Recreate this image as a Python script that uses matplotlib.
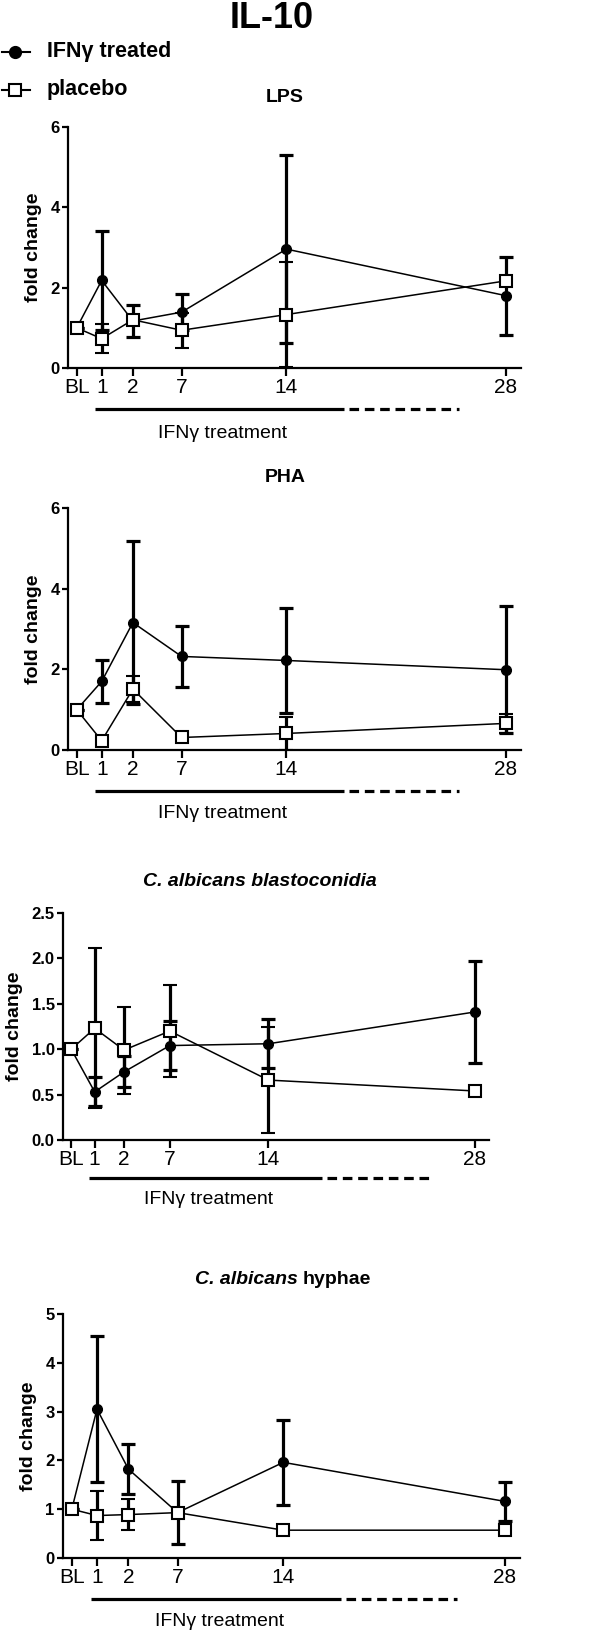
import matplotlib
matplotlib.use("Agg")
import matplotlib.pyplot as plt
from matplotlib.lines import Line2D
from matplotlib import transforms

plt.rcParams["font.family"] = ["Liberation Sans", "DejaVu Sans"]

# ==========================================
# DATA (fold change, mean and error)
# ==========================================
day_labels = ["BL", "1", "2", "7", "14", "28"]

lps_treated = [1.0, 2.18, 1.17, 1.39, 2.96, 1.80]
lps_treated_err = [0.0, 1.24, 0.40, 0.44, 2.35, 0.97]
lps_placebo = [1.0, 0.73, 1.20, 0.94, 1.33, 2.17]
lps_placebo_err = [0.0, 0.36, 0.10, 0.43, 1.31, 0.10]

pha_treated = [1.0, 1.70, 3.16, 2.32, 2.22, 1.99]
pha_treated_err = [0.0, 0.53, 2.01, 0.75, 1.31, 1.58]
pha_placebo = [1.0, 0.23, 1.51, 0.31, 0.41, 0.66]
pha_placebo_err = [0.0, 0.08, 0.33, 0.05, 0.42, 0.24]

blasto_treated = [1.0, 0.53, 0.75, 1.04, 1.06, 1.41]
blasto_treated_err = [0.0, 0.16, 0.17, 0.27, 0.27, 0.56]
blasto_placebo = [1.0, 1.23, 0.99, 1.20, 0.66, 0.54]
blasto_placebo_err = [0.0, 0.88, 0.48, 0.51, 0.58, 0.02]

hyphae_treated = [1.0, 3.05, 1.82, 0.93, 1.96, 1.16]
hyphae_treated_err = [0.0, 1.49, 0.51, 0.65, 0.87, 0.40]
hyphae_placebo = [1.0, 0.87, 0.89, 0.93, 0.57, 0.57]
hyphae_placebo_err = [0.0, 0.50, 0.32, 0.10, 0.08, 0.03]

# ==========================================
# LAYOUT
# ==========================================
W, H = 600, 1636
x_pos = [0, 1, 2.25, 4.2, 8.4, 17.2]   # uneven spacing of the time axis


def px_rect(l, t, r, b):
    return [l / W, 1 - b / H, (r - l) / W, (b - t) / H]


fig = plt.figure(figsize=(W / 100, H / 100), dpi=100)

# title
fig.text(272 / W, 1 - 19 / H, "IL-10", ha="center", va="center",
         fontsize=26, fontweight="bold")

# legend (drawn by hand, top left)
for yy, mk, mfc, lab in [(52, "o", "black", "IFN\u03b3 treated"),
                         (90, "s", "white", "placebo")]:
    fig.add_artist(Line2D([2 / W, 30 / W], [1 - yy / H, 1 - yy / H],
                          color="black", lw=1.5))
    fig.add_artist(Line2D([15 / W], [1 - yy / H], marker=mk, ms=8,
                          mfc=mfc, mec="black", mew=1.5, color="black"))
    fig.text(47 / W, 1 - yy / H, lab, ha="left", va="center",
             fontsize=15.5, fontweight="bold")

panels = [
    (px_rect(68, 127, 521, 368), lps_treated, lps_treated_err,
     lps_placebo, lps_placebo_err, [0, 2, 4, 6], "{:.0f}", 6, 41, 65),
    (px_rect(68, 508, 521, 750), pha_treated, pha_treated_err,
     pha_placebo, pha_placebo_err, [0, 2, 4, 6], "{:.0f}", 6, 41, 63),
    (px_rect(63, 913, 489, 1140), blasto_treated, blasto_treated_err,
     blasto_placebo, blasto_placebo_err, [0, 0.5, 1.0, 1.5, 2.0, 2.5],
     "{:.1f}", 2.5, 38, 60),
    (px_rect(63, 1314, 520, 1558), hyphae_treated, hyphae_treated_err,
     hyphae_placebo, hyphae_placebo_err, [0, 1, 2, 3, 4, 5], "{:.0f}", 5,
     41, 64),
]

for rect, tr, tr_err, pl, pl_err, yt, fmt, ymax, bar_off, txt_off in panels:
    ax = fig.add_axes(rect)

    ax.errorbar(x_pos, tr, yerr=tr_err, fmt="o-", color="black", ms=7,
                lw=1.1, elinewidth=2.3, capsize=4.7, capthick=2.3, zorder=3)
    ax.errorbar(x_pos, pl, yerr=pl_err, fmt="s-", color="black", ms=8.5,
                mfc="white", mec="black", mew=1.5, lw=1.1, elinewidth=2.3,
                capsize=4.7, capthick=2.3, zorder=4)

    ax.set_xlim(-0.35, 17.8)
    ax.set_ylim(0, ymax)
    ax.set_xticks(x_pos)
    ax.set_xticklabels(day_labels, fontsize=15)
    ax.set_yticks(yt)
    ax.set_yticklabels([fmt.format(v) for v in yt], fontsize=12,
                       fontweight="bold")
    ax.set_ylabel("fold change", fontsize=14, fontweight="bold", labelpad=6)

    for s in ["top", "right"]:
        ax.spines[s].set_visible(False)
    for s in ["left", "bottom"]:
        ax.spines[s].set_linewidth(1.6)
    ax.tick_params(axis="x", length=6, width=1.6, pad=1)
    ax.tick_params(axis="y", length=4, width=1.6, pad=2)

    # treatment period bar under the axis
    trans_bar = transforms.blended_transform_factory(ax.transData, ax.transAxes) \
        + transforms.ScaledTranslation(0, -bar_off / 100, fig.dpi_scale_trans)
    ax.plot([0.75, 10.7], [0, 0], color="black", lw=2.3,
            transform=trans_bar, clip_on=False, solid_capstyle="butt")
    ax.plot([10.9, 15.3], [0, 0], color="black", lw=2.3, linestyle=(0, (3, 1.8)),
            transform=trans_bar, clip_on=False, dash_capstyle="butt")

    trans_txt = transforms.blended_transform_factory(ax.transData, ax.transAxes) \
        + transforms.ScaledTranslation(0, -txt_off / 100, fig.dpi_scale_trans)
    ax.text(5.85, 0, "IFN\u03b3 treatment", transform=trans_txt, ha="center",
            va="center", fontsize=14)

# panel titles
fig.text(285 / W, 1 - 97 / H, "LPS", ha="center", va="center",
         fontsize=14, fontweight="bold")
fig.text(285 / W, 1 - 477 / H, "PHA", ha="center", va="center",
         fontsize=14, fontweight="bold")
fig.text(260 / W, 1 - 881 / H, "C. albicans blastoconidia", ha="center",
         va="center", fontsize=14, fontweight="bold", style="italic")

# mixed italic / bold title
renderer = fig.canvas.get_renderer()
t1 = fig.text(0, 1 - 1279 / H, "C. albicans", ha="left", va="center",
              fontsize=14, fontweight="bold", style="italic")
t2 = fig.text(0, 1 - 1279 / H, "hyphae", ha="left", va="center",
              fontsize=14, fontweight="bold")
w1 = t1.get_window_extent(renderer).width
w2 = t2.get_window_extent(renderer).width
gap = 5
start = 283 - (w1 + w2 + gap) / 2
t1.set_x(start / W)
t2.set_x((start + w1 + gap) / W)

fig.savefig("out.png", dpi=100)
